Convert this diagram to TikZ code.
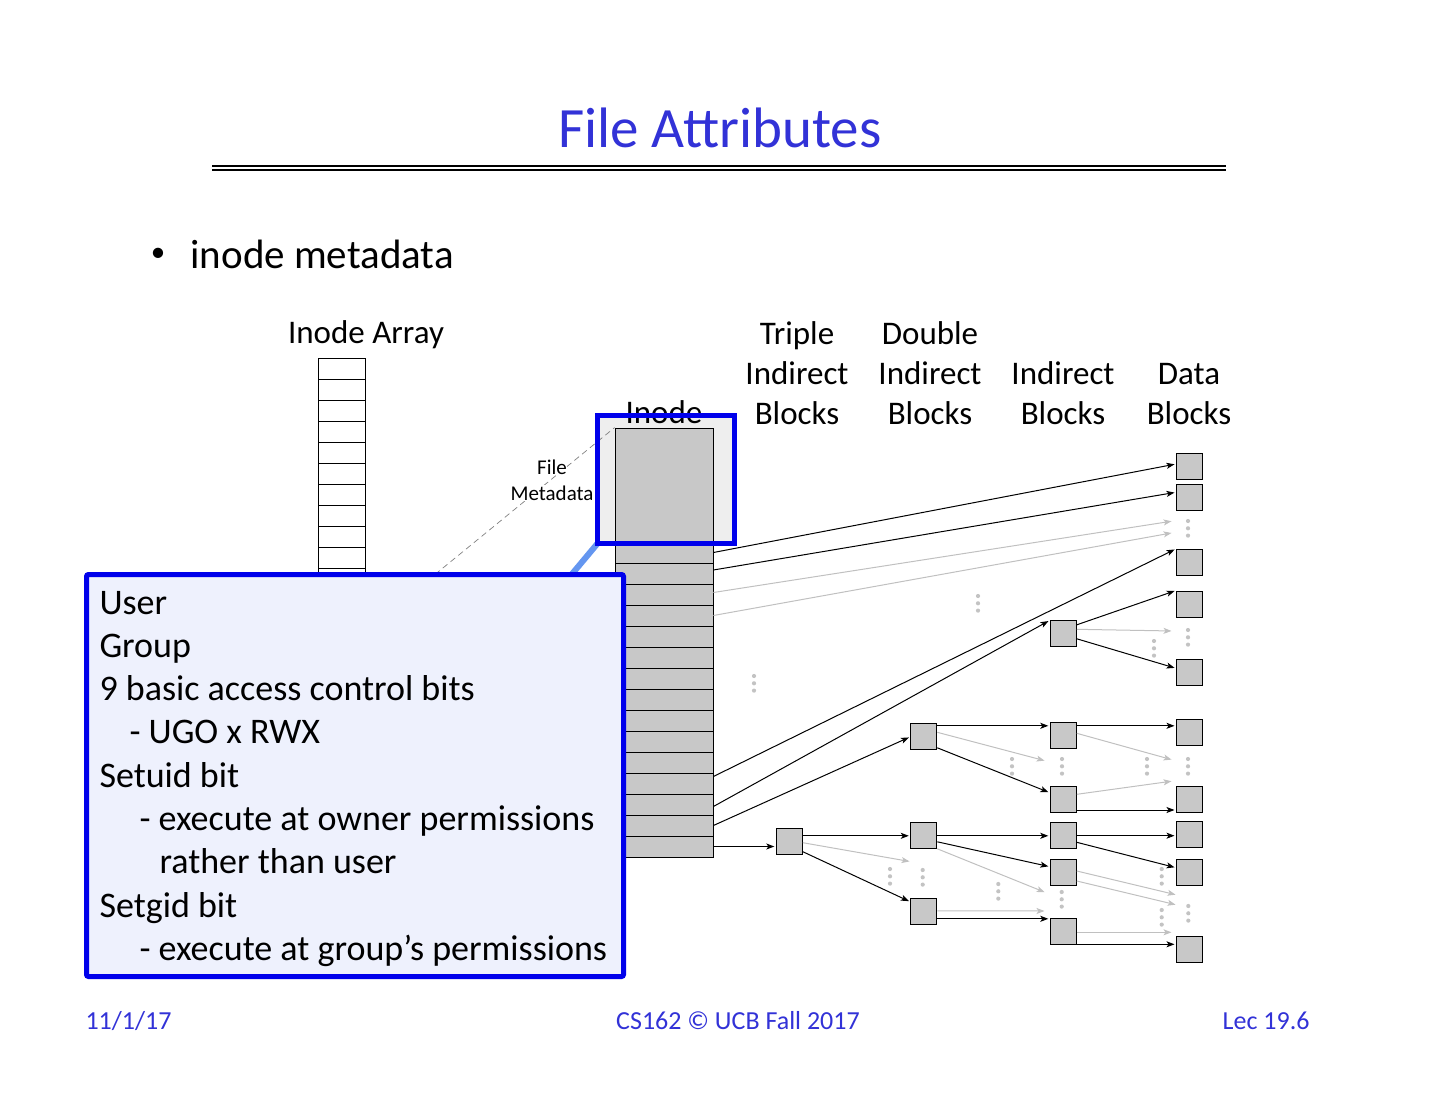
\documentclass[tikz,border=0pt]{standalone}
\usepackage{fontspec}
\setmainfont{Carlito}
\usetikzlibrary{arrows.meta}
\definecolor{titleblue}{RGB}{50,50,215}
\definecolor{hlblue}{RGB}{0,0,235}
\definecolor{linkblue}{RGB}{100,150,240}
\definecolor{notefill}{RGB}{238,241,253}
\definecolor{blkgray}{RGB}{200,200,200}
\definecolor{ghostgray}{RGB}{192,192,192}
\definecolor{dotgray}{RGB}{195,195,195}
\newcommand{\fsz}[1]{\fontsize{#1}{#1}\selectfont}

\begin{document}
\begin{tikzpicture}[x=1pt,y=-1pt,line width=1pt,every node/.style={inner sep=0pt},
  hdr/.style={font=\fsz{33},anchor=base},
  blk/.style={draw,fill=blkgray,minimum size=26pt},
  cell/.style={draw,fill=blkgray,minimum width=98pt,minimum height=21pt,line width=.8pt},
  ptr/.style={-{Stealth[length=8pt,width=6pt,inset=2pt]},shorten >=1.5pt},
  ghost/.style={ptr,ghostgray},
  notetxt/.style={font=\fsz{36},anchor=base west},
  foot/.style={font=\fsz{26},text=titleblue}]
\useasboundingbox (0,0) rectangle (1440,1113);
\node[font=\fsz{57},text=titleblue,anchor=base] (title) at (720,147) {File Attributes};
\draw[line width=2pt] (212,166)--(1226,166); \draw[line width=2pt] (212,170)--(1226,170);
\node[font=\fsz{29},anchor=base] (bul) at (158,261) {\textbullet};
\node[font=\fsz{41},anchor=base west] (sub) at (190,268) {inode metadata};

\node[hdr] (harr) at (366,343) {Inode Array};
\node[hdr] (h3a) at (797,344) {Triple}; \node[hdr] (h3b) at (797,384) {Indirect}; \node[hdr] (h3c) at (797,424) {Blocks};
\node[hdr] (h2a) at (930,344) {Double}; \node[hdr] (h2b) at (930,384) {Indirect}; \node[hdr] (h2c) at (930,424) {Blocks};
\node[hdr] (h1b) at (1063,384) {Indirect}; \node[hdr] (h1c) at (1063,424) {Blocks};
\node[hdr] (h0b) at (1189,384) {Data}; \node[hdr] (h0c) at (1189,424) {Blocks};

\foreach \i in {0,...,13} \node[draw,minimum width=47pt,minimum height=21pt,line width=.8pt] (a\i) at (341.5,368.5+21*\i) {};

\node[fill=gray!13,minimum width=136pt,minimum height=127pt] (hl) at (666,479.5) {};
\node[hdr] (hin) at (664,423) {Inode};
\node[cell,minimum height=114pt] (meta) at (664,485) {};
\foreach \i in {0,...,14} \node[cell] (r\i) at (664,552.5+21*\i) {};
\draw[gray,line width=.7pt,dash pattern=on 6pt off 4pt] (a12.south east)--(meta.north west);
\node[font=\fsz{21},anchor=base,fill=white,inner sep=.5pt] (fm1) at (552,474) {File};
\node[font=\fsz{21},anchor=base,fill=white,inner sep=.5pt] (fm2) at (552,500) {Metadata};

\node[blk] (T) at (789.3,841.3) {};
\foreach \n/\y in {D1/736.8,D2/835.8,D3/911.8} \node[blk] (\n) at (923.8,\y) {};
\foreach \n/\y in {I1/633.8,S1/735.8,S2/799.3,S3/835.7,S4/872.3,S5/931.8} \node[blk] (\n) at (1063.3,\y) {};
\foreach \n/\y in {B1/466.7,B2/497.7,B3/562.3,B4/604,B5/672.7,B6/732.8,B7/799.3,B8/834.3,B9/872.3,B10/949.3} \node[blk] (\n) at (1189.5,\y) {};

\coordinate (g1) at (1173,521); \coordinate (g2) at (1173,532.7); \coordinate (g3) at (1173,631);
\coordinate (g4) at (1046,761); \coordinate (g5) at (1173,760); \coordinate (g6) at (1173,781);
\coordinate (g7) at (911,861.7); \coordinate (g8) at (1046,892.7); \coordinate (g9) at (1046,911);
\coordinate (g10) at (1177,895); \coordinate (g11) at (1177,905); \coordinate (g12) at (1173,932.3);
\foreach \x/\y in {1188/521,1188/630,1154/641,978/596,754/676,1012/759,1062/759,1147/759,1188/759,890/869,922.7/870,998.3/884,1061.7/892,1161.7/869,1161.7/910,1188.3/906}
  \foreach \d in {0,7.3,14.6} \fill[dotgray] (\x,\y) ++(0,\d) circle (2.1pt);

\draw[ptr] (r0.east)--([yshift=2.7pt]B1.west); \draw[ptr] ([yshift=3.5pt]r1.east)--([yshift=5.4pt]B2.west);
\draw[ghost] ([yshift=2pt]r2.east)--(g1); \draw[ghost] (r3.east)--(g2);
\draw[ptr] ([yshift=7pt]r11.east)--(B3.north west); \draw[ptr] ([yshift=-2pt]r12.east)--(I1.north west);
\draw[ptr] (r13.east)--(D1.west); \draw[ptr] (r14.east)--(r14.east -| T.west);

\draw[ptr] ([yshift=9pt]I1.east)--(B4.north west); \draw[ghost] ([yshift=4.5pt]I1.east)--(g3);
\draw[ptr] ([yshift=-5pt]I1.east)--([yshift=4.4pt]B5.west);

\draw[ptr] (T.east |- D2.west)--(D2.west); \draw[ghost] ([yshift=-1.4pt]T.east)--(g7);
\draw[ptr] ([yshift=-10.4pt]T.east)--([yshift=10pt]D3.west);

\draw[ptr] ([yshift=11pt]D1.east)--([yshift=11pt]D1.east -| S1.west); \draw[ghost] ([yshift=4.5pt]D1.east)--(g4);
\draw[ptr] ([yshift=-11pt]D1.east)--([yshift=6.6pt]S2.west);
\draw[ptr] (D2.east)--(D2.east -| S3.west); \draw[ptr] ([yshift=-6pt]D2.east)--([yshift=5.6pt]S4.west);
\draw[ghost] ([yshift=-13pt]D2.east)--(g8);
\draw[ghost] ([yshift=1pt]D3.east)--(g9); \draw[ptr] ([yshift=-7pt]D3.east)--([yshift=-7pt]D3.east -| S5.west);

\draw[ptr] ([yshift=10pt]S1.east)--([yshift=10pt]S1.east -| B6.west); \draw[ghost] ([yshift=2.5pt]S1.east)--(g5);
\draw[ghost] ([yshift=5pt]S2.east)--(g6); \draw[ptr] ([yshift=-10.7pt]S2.east)--([yshift=-10.7pt]S2.east -| B7.west);
\draw[ptr] (S3.east)--(S3.east -| B8.west); \draw[ptr] ([yshift=-6.6pt]S3.east)--([yshift=4.6pt]B9.west);
\draw[ghost] ([yshift=1.3pt]S4.east)--(g10); \draw[ghost] ([yshift=-8.7pt]S4.east)--(g11);
\draw[ghost] ([yshift=-.5pt]S5.east)--(g12); \draw[ptr] ([yshift=-12.5pt]S5.east)--([yshift=-12.5pt]S5.east -| B10.west);

\coordinate (tip) at (572,574);
\draw[linkblue,line width=6pt] (hl.south west)--(tip);
\draw[hlblue,line width=5pt] (hl.north west) rectangle (hl.south east);
\node[draw=hlblue,fill=notefill,line width=5pt,rounded corners=2pt,minimum width=537pt,minimum height=402pt] (note) at (355,775.5) {};
\foreach \dx/\txt [count=\i from 0] in {0/User,0/Group,0/9 basic access control bits,30/- UGO x RWX,0/Setuid bit,40/- execute at owner permissions,60/rather than user,0/Setgid bit,40/- execute at group’s permissions}
  \node[notetxt] (ln\i) at (99+\dx,614+43.3*\i) {\txt};

\node[foot,anchor=base west] (fdate) at (85,1029) {11/1/17};
\node[foot,anchor=base] (fmid) at (738,1029) {CS162 © UCB Fall 2017};
\node[foot,anchor=base east] (fno) at (1310,1029) {Lec 19.6};
\end{tikzpicture}
\end{document}
